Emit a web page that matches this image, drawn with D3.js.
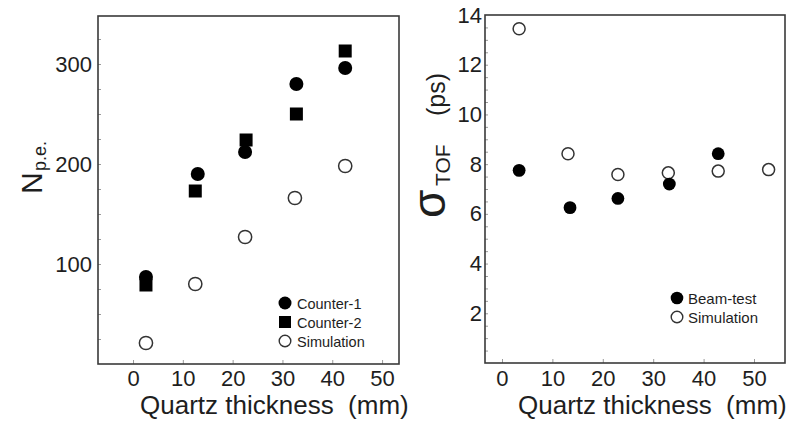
<!DOCTYPE html>
<html>
<head>
<meta charset="utf-8">
<script src="https://cdn.jsdelivr.net/npm/d3@7"></script>
<style>
  html, body { margin: 0; padding: 0; background: #fff; }
  svg { display: block; font-family: "Liberation Sans", Arial, Helvetica, sans-serif; }
</style>
</head>
<body>
<svg id="chart" width="794" height="421"></svg>
<script>
// ---------- Data ----------
// Left panel: number of photoelectrons vs quartz thickness
const counter1X = [2.6, 13, 22.5, 32.8, 42.6];
const counter1Y = [87, 190, 212, 280, 296];
const counter2X = [2.6, 12.5, 22.7, 32.8, 42.6];
const counter2Y = [79, 173, 224, 250, 313];
const simNpeX = [2.6, 12.5, 22.5, 32.5, 42.6];
const simNpeY = [21, 80, 127, 166, 198];
const leftXTicks = [0, 10, 20, 30, 40, 50];
const leftYTicks = [100, 200, 300];
const leftLegend = ["Counter-1", "Counter-2", "Simulation"];

// Right panel: time-of-flight resolution vs quartz thickness
const beamX = [3.4, 13.5, 23, 33.2, 42.9];
const beamY = [7.75, 6.25, 6.62, 7.2, 8.42];
const simTofX = [3.4, 13.1, 23, 33, 42.9, 52.9];
const simTofY = [13.45, 8.42, 7.58, 7.65, 7.72, 7.78];
const rightXTicks = [0, 10, 20, 30, 40, 50];
const rightYTicks = [2, 4, 6, 8, 10, 12, 14];
const rightLegend = ["Beam-test", "Simulation"];

const xTitle = "Quartz thickness\u00a0\u00a0(mm)";

// ---------- Drawing ----------
const svg = d3.select("#chart");
const ink = "#1e1e1e";
const frameCol = "#3a3a3a";
const tickCol = "#9a9a9a";

function frame(g, x0, y0, x1, y1) {
  g.append("rect").attr("x", x0).attr("y", y0).attr("width", x1 - x0).attr("height", y1 - y0)
    .attr("fill", "none").attr("stroke", frameCol).attr("stroke-width", 1.6);
}

// ===== Left panel =====
const L = { x0: 98, x1: 399, y0: 16, y1: 364 };
const lx = d3.scaleLinear().domain([-7.03, 53.4]).range([L.x0, L.x1]);
const ly = d3.scaleLinear().domain([0, 348]).range([L.y1, L.y0]);
const gl = svg.append("g");

// inner minor ticks
gl.append("g").attr("transform", `translate(${L.x0},0)`)
  .call(d3.axisRight(ly).tickValues(d3.range(25, 350, 25)).tickSize(3).tickFormat(""))
  .call(g => g.select(".domain").remove())
  .call(g => g.selectAll("line").attr("stroke", tickCol));
gl.append("g").attr("transform", `translate(0,${L.y1})`)
  .call(d3.axisTop(lx).tickValues(leftXTicks).tickSize(4).tickFormat(""))
  .call(g => g.select(".domain").remove())
  .call(g => g.selectAll("line").attr("stroke", tickCol));

// tick labels
gl.append("g").attr("transform", `translate(${L.x0},0)`)
  .call(d3.axisLeft(ly).tickValues(leftYTicks).tickSize(0).tickPadding(6))
  .call(g => g.select(".domain").remove())
  .call(g => g.selectAll("text").attr("font-size", 22).attr("fill", ink)
    .attr("font-family", "Liberation Sans, Arial, sans-serif"));
gl.append("g").attr("transform", `translate(0,${L.y1})`)
  .call(d3.axisBottom(lx).tickValues(leftXTicks).tickSize(0).tickPadding(6))
  .call(g => g.select(".domain").remove())
  .call(g => g.selectAll("text").attr("font-size", 22).attr("fill", ink)
    .attr("font-family", "Liberation Sans, Arial, sans-serif"));

frame(gl, L.x0, L.y0, L.x1, L.y1);

// data marks
gl.append("g").selectAll("circle").data(simNpeX.map((x, i) => [x, simNpeY[i]])).join("circle")
  .attr("cx", d => lx(d[0])).attr("cy", d => ly(d[1])).attr("r", 6.6)
  .attr("fill", "#fff").attr("stroke", "#333").attr("stroke-width", 1.5);
gl.append("g").selectAll("circle").data(counter1X.map((x, i) => [x, counter1Y[i]])).join("circle")
  .attr("cx", d => lx(d[0])).attr("cy", d => ly(d[1])).attr("r", 7)
  .attr("fill", "#000");
gl.append("g").selectAll("rect").data(counter2X.map((x, i) => [x, counter2Y[i]])).join("rect")
  .attr("x", d => lx(d[0]) - 6.5).attr("y", d => ly(d[1]) - 6.5)
  .attr("width", 13).attr("height", 13).attr("fill", "#000");

// legend
const llg = gl.append("g");
const llRows = [303, 322, 341];
leftLegend.forEach((t, i) => {
  const cy = llRows[i];
  if (i === 0) llg.append("circle").attr("cx", 285).attr("cy", cy).attr("r", 6.5).attr("fill", "#000");
  if (i === 1) llg.append("rect").attr("x", 279).attr("y", cy - 6).attr("width", 12).attr("height", 12).attr("fill", "#000");
  if (i === 2) llg.append("circle").attr("cx", 285).attr("cy", cy).attr("r", 5.8).attr("fill", "#fff").attr("stroke", "#333").attr("stroke-width", 1.4);
  llg.append("text").attr("x", 297).attr("y", cy + 5.5).attr("font-size", 14.5).attr("fill", ink).text(t);
});

// axis titles
gl.append("text").attr("x", 140).attr("y", 414).attr("font-size", 26).attr("fill", ink).text(xTitle);
gl.append("text").attr("transform", "translate(42,194) rotate(-90)").attr("font-size", 30).attr("fill", ink).text("N");
gl.append("text").attr("transform", "translate(46,171) rotate(-90)").attr("font-size", 18).attr("fill", ink).text("p.e.");

// ===== Right panel =====
const R = { x0: 485, x1: 785, y0: 15, y1: 363 };
const rx = d3.scaleLinear().domain([-3.37, 56.15]).range([R.x0, R.x1]);
const ry = d3.scaleLinear().domain([0, 14]).range([R.y1, R.y0]);
const gr = svg.append("g");

gr.append("g").attr("transform", `translate(${R.x0},0)`)
  .call(d3.axisRight(ry).tickValues(d3.range(0.5, 14, 0.5)).tickSize(3).tickFormat(""))
  .call(g => g.select(".domain").remove())
  .call(g => g.selectAll("line").attr("stroke", tickCol));
gr.append("g").attr("transform", `translate(0,${R.y1})`)
  .call(d3.axisTop(rx).tickValues(rightXTicks).tickSize(4).tickFormat(""))
  .call(g => g.select(".domain").remove())
  .call(g => g.selectAll("line").attr("stroke", tickCol));

gr.append("g").attr("transform", `translate(${R.x0},0)`)
  .call(d3.axisLeft(ry).tickValues(rightYTicks).tickSize(0).tickPadding(3))
  .call(g => g.select(".domain").remove())
  .call(g => g.selectAll("text").attr("font-size", 22).attr("fill", ink)
    .attr("font-family", "Liberation Sans, Arial, sans-serif"));
gr.append("g").attr("transform", `translate(0,${R.y1})`)
  .call(d3.axisBottom(rx).tickValues(rightXTicks).tickSize(0).tickPadding(7))
  .call(g => g.select(".domain").remove())
  .call(g => g.selectAll("text").attr("font-size", 22).attr("fill", ink)
    .attr("font-family", "Liberation Sans, Arial, sans-serif"));

frame(gr, R.x0, R.y0, R.x1, R.y1);

gr.append("g").selectAll("circle").data(simTofX.map((x, i) => [x, simTofY[i]])).join("circle")
  .attr("cx", d => rx(d[0])).attr("cy", d => ry(d[1])).attr("r", 6)
  .attr("fill", "#fff").attr("stroke", "#333").attr("stroke-width", 1.5);
gr.append("g").selectAll("circle").data(beamX.map((x, i) => [x, beamY[i]])).join("circle")
  .attr("cx", d => rx(d[0])).attr("cy", d => ry(d[1])).attr("r", 6.4)
  .attr("fill", "#000");

const rlg = gr.append("g");
const rlRows = [298, 317];
rightLegend.forEach((t, i) => {
  const cy = rlRows[i];
  if (i === 0) rlg.append("circle").attr("cx", 677).attr("cy", cy).attr("r", 6.3).attr("fill", "#000");
  if (i === 1) rlg.append("circle").attr("cx", 677).attr("cy", cy).attr("r", 5.8).attr("fill", "#fff").attr("stroke", "#333").attr("stroke-width", 1.4);
  rlg.append("text").attr("x", 688).attr("y", cy + 5.5).attr("font-size", 15).attr("fill", ink).text(t);
});

gr.append("text").attr("x", 518).attr("y", 414).attr("font-size", 26).attr("fill", ink).text(xTitle);
gr.append("text").attr("transform", "translate(445,218) rotate(-90)").attr("font-size", 46).attr("fill", ink).text("\u03c3");
gr.append("text").attr("transform", "translate(450,186) rotate(-90)").attr("font-size", 21).attr("fill", ink).text("TOF");
gr.append("text").attr("transform", "translate(445,116) rotate(-90)").attr("font-size", 25).attr("fill", ink).text("(ps)");
</script>
</body>
</html>
